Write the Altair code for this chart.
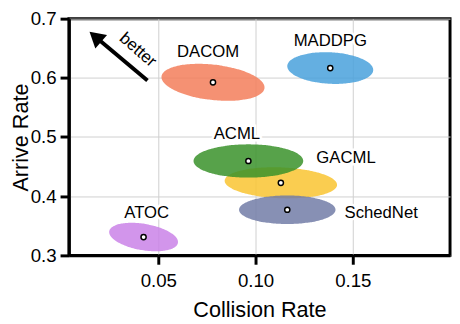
import altair as alt
import numpy as np
import pandas as pd

# ---- data ----
methods = ["DACOM", "MADDPG", "GACML", "ACML", "SchedNet", "ATOC"]
collision = [0.0781, 0.1384, 0.1130, 0.0963, 0.1163, 0.0424]
arrive = [0.5924, 0.6165, 0.4226, 0.4595, 0.3771, 0.3310]
collision_sd = [0.0265, 0.0221, 0.0289, 0.0282, 0.0248, 0.0177]
arrive_sd = [0.0313, 0.0268, 0.0263, 0.0281, 0.0241, 0.0241]
corr = [-0.28, -0.12, -0.13, 0.0, 0.0, -0.35]
colors = ["#F37E5B", "#49A1DC", "#F9C431", "#3A922A", "#727DA7", "#CA83E8"]
label_x = [0.0756, 0.1384, 0.1465, 0.0904, 0.1646, 0.0440]
label_y = [0.6430, 0.6622, 0.4639, 0.5056, 0.3723, 0.3715]
x_ticks = [0.05, 0.10, 0.15]
y_ticks = [0.3, 0.4, 0.5, 0.6, 0.7]
x_domain = [0.004, 0.2]
y_domain = [0.3, 0.7]
arrow_from = [0.0444, 0.5956]
arrow_to = [0.0176, 0.6695]
arrow_text = [0.0394, 0.647]

FONT = "Liberation Sans"

xs = alt.Scale(domain=x_domain, nice=False, zero=False)
ys = alt.Scale(domain=y_domain, nice=False, zero=False)

x_axis = alt.Axis(values=x_ticks, format=".2f", title="Collision Rate",
                  ticks=True, tickSize=9, tickWidth=3, tickColor="black")
y_axis = alt.Axis(values=y_ticks, format=".1f", title="Arrive Rate",
                  ticks=True, tickSize=9, tickWidth=3, tickColor="black")

layers = []
u = -np.cos(np.linspace(0, np.pi, 90))
for i, m in enumerate(methods):
    r = corr[i]
    half = np.sqrt((1 - r ** 2) * np.clip(1 - u ** 2, 0, None))
    df = pd.DataFrame({
        "x": collision[i] + collision_sd[i] * u,
        "lo": arrive[i] + arrive_sd[i] * (r * u - half),
        "hi": arrive[i] + arrive_sd[i] * (r * u + half),
    })
    layers.append(
        alt.Chart(df).mark_area(color=colors[i], opacity=0.85, interpolate="monotone").encode(
            x=alt.X("x:Q", scale=xs, axis=x_axis),
            y=alt.Y("lo:Q", scale=ys, axis=y_axis),
            y2="hi:Q",
        )
    )

pts = pd.DataFrame({"method": methods, "x": collision, "y": arrive,
                    "lx": label_x, "ly": label_y})

dots = alt.Chart(pts).mark_point(filled=True, fill="white", stroke="black",
                                 strokeWidth=1.5, size=28, opacity=1).encode(
    x=alt.X("x:Q", scale=xs, axis=x_axis), y=alt.Y("y:Q", scale=ys, axis=y_axis))

halo = alt.Chart(pts).mark_text(font=FONT, fontSize=17, stroke="white",
                                strokeWidth=5, color="white").encode(
    x=alt.X("lx:Q", scale=xs, axis=x_axis), y=alt.Y("ly:Q", scale=ys, axis=y_axis), text="method:N")
labels = alt.Chart(pts).mark_text(font=FONT, fontSize=17, color="black").encode(
    x=alt.X("lx:Q", scale=xs, axis=x_axis), y=alt.Y("ly:Q", scale=ys, axis=y_axis), text="method:N")

arr = pd.DataFrame({"x": [arrow_from[0]], "y": [arrow_from[1]],
                    "x2": [arrow_to[0]], "y2": [arrow_to[1]],
                    "tx": [arrow_text[0]], "ty": [arrow_text[1]], "t": ["better"]})
shaft = alt.Chart(arr).mark_rule(color="black", strokeWidth=4).encode(
    x=alt.X("x:Q", scale=xs, axis=x_axis), y=alt.Y("y:Q", scale=ys, axis=y_axis), x2="x2:Q", y2="y2:Q")
head = alt.Chart(arr).mark_point(shape="triangle-up", filled=True, color="black",
                                 size=330, angle=311, opacity=1).encode(
    x=alt.X("x2:Q", scale=xs, axis=x_axis), y=alt.Y("y2:Q", scale=ys, axis=y_axis))
better = alt.Chart(arr).mark_text(font=FONT, fontSize=17, angle=41, color="black").encode(
    x=alt.X("tx:Q", scale=xs, axis=x_axis), y=alt.Y("ty:Q", scale=ys, axis=y_axis), text="t:N")

chart = alt.layer(*layers, dots, halo, labels, shaft, head, better).properties(
    width=388, height=241,
    autosize=alt.AutoSizeParams(type="none"),
    padding={"left": 62, "top": 8, "right": 2, "bottom": 67},
).configure_view(stroke="black", strokeWidth=3).configure_axis(
    grid=True, gridColor="#cfcfcf", gridWidth=1,
    domainColor="black", domainWidth=3,
    labelFont=FONT, labelFontSize=19, labelColor="black",
    titleFont=FONT, titleFontSize=22, titleFontWeight="normal", titleColor="black",
).configure_axisX(labelPadding=8, titlePadding=9).configure_axisY(
    labelPadding=4, titlePadding=-2)

chart.save("out.html", embed_options={"renderer": "svg", "actions": False})
